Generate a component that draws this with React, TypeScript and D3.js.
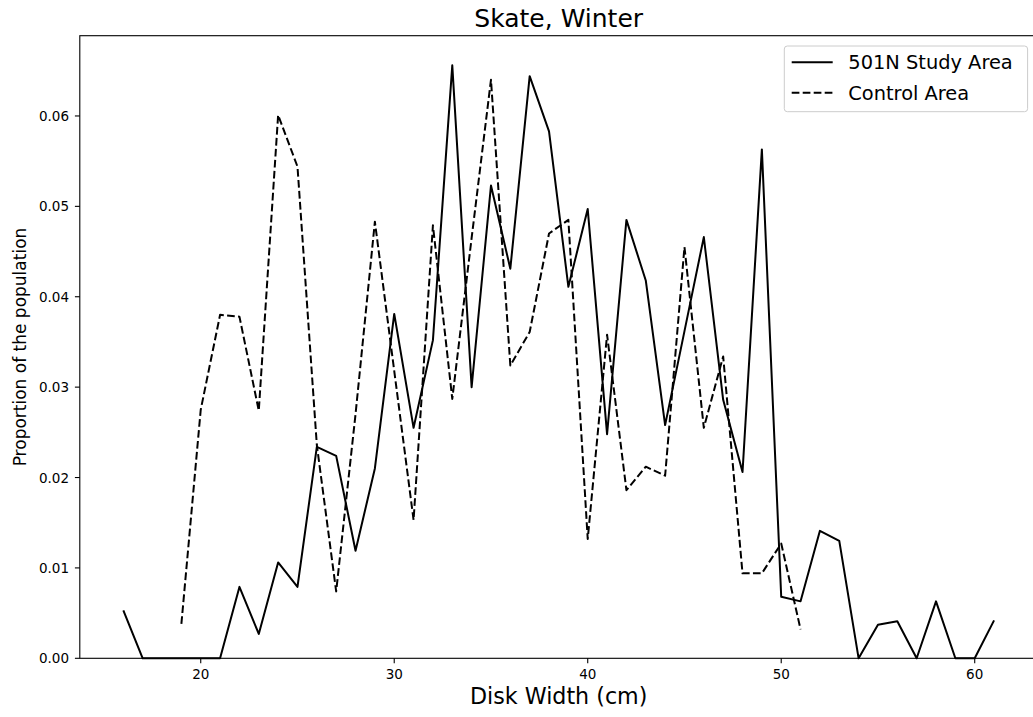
import React from "react";
import * as d3 from "d3";

const studyX = [16,17,18,19,20,21,22,23,24,25,26,27,28,29,30,31,32,33,34,35,36,37,38,39,40,41,42,43,44,45,46,47,48,49,50,51,52,53,54,55,56,57,58,59,60,61];
const studyY = [0.0053,0,0,0,0,0,0.0079,0.0027,0.0106,0.0079,0.0234,0.0224,0.0119,0.0210,0.0381,0.0255,0.0352,0.0656,0.0300,0.0523,0.0431,0.0644,0.0583,0.0411,0.0497,0.0248,0.0485,0.0418,0.0258,0.0362,0.0466,0.0286,0.0206,0.0563,0.0068,0.0063,0.0141,0.0130,0,0.0037,0.0041,0,0.0063,0,0,0.0042];
const controlX = [19,20,21,22,23,24,25,26,27,28,29,30,31,32,33,34,35,36,37,38,39,40,41,42,43,44,45,46,47,48,49,50,51];
const controlY = [0.0038,0.0275,0.0380,0.0378,0.0274,0.0601,0.0544,0.0236,0.0074,0.0270,0.0483,0.0318,0.0153,0.0479,0.0287,0.0465,0.0640,0.0324,0.0361,0.0470,0.0485,0.0132,0.0358,0.0186,0.0212,0.0202,0.0455,0.0255,0.0334,0.0094,0.0094,0.0127,0.0032];
const xTicks = [20, 30, 40, 50, 60];
const yTicks = [0, 0.01, 0.02, 0.03, 0.04, 0.05, 0.06];
const seriesNames = ["501N Study Area", "Control Area"];
const title = "Skate, Winter";
const xLabel = "Disk Width (cm)";
const yLabel = "Proportion of the population";

const W = 1033, H = 717;
const L = 79.8, R = 1037.6, T = 35.7, B = 658.3;
const FONT = "'DejaVu Sans', sans-serif";

export default function App() {
  const x = d3.scaleLinear().domain([13.75, 63.25]).range([L, R]);
  const y = d3.scaleLinear().domain([0, 0.06888]).range([B, T]);
  const line = d3.line<[number, number]>().x(d => x(d[0])).y(d => y(d[1]));
  const studyPts = studyX.map((v, i) => [v, studyY[i]] as [number, number]);
  const ctrlPts = controlX.map((v, i) => [v, controlY[i]] as [number, number]);
  const fmt = d3.format(".2f");
  const legX = 784.3, legY = 46, legW = 243.3, legH = 65.7;
  return (
    <svg width={W} height={H} style={{ position: "absolute", left: 0, top: 0, background: "#fff" }} fontFamily={FONT}>
      <rect x={0} y={0} width={W} height={H} fill="#fff" />
      <path d={line(studyPts) || ""} fill="none" stroke="#000" strokeWidth={2} strokeLinejoin="round" />
      <path d={line(ctrlPts) || ""} fill="none" stroke="#000" strokeWidth={2} strokeDasharray="7.7,3.3" strokeLinejoin="round" />
      {/* spines */}
      <rect x={L} y={T} width={R - L} height={B - T} fill="none" stroke="#000" strokeWidth={1.1} />
      {/* x ticks */}
      {xTicks.map(t => (
        <g key={"x" + t}>
          <line x1={x(t)} x2={x(t)} y1={B} y2={B + 4.9} stroke="#000" strokeWidth={1.1} />
          <text x={x(t)} y={678.5} textAnchor="middle" fontSize={13.5} fill="#000">{t}</text>
        </g>
      ))}
      {yTicks.map(t => (
        <g key={"y" + t}>
          <line x1={L - 4.9} x2={L} y1={y(t)} y2={y(t)} stroke="#000" strokeWidth={1.1} />
          <text x={69} y={y(t) + 5} textAnchor="end" fontSize={13.5} fill="#000">{fmt(t)}</text>
        </g>
      ))}
      <text x={(L + R) / 2} y={26.7} textAnchor="middle" fontSize={25} fill="#000">{title}</text>
      <text x={(L + R) / 2} y={704} textAnchor="middle" fontSize={22.2} fill="#000">{xLabel}</text>
      <text transform={`translate(25.5, ${(T + B) / 2}) rotate(-90)`} textAnchor="middle" fontSize={17} fill="#000">{yLabel}</text>
      {/* legend */}
      <rect x={legX} y={legY} width={legW} height={legH} rx={3} fill="#fff" fillOpacity={0.8} stroke="#cccccc" strokeWidth={1} />
      {seriesNames.map((n, i) => {
        const ly = 62.3 + i * 30.4;
        return (
          <g key={n}>
            <line x1={791.7} x2={832.7} y1={ly} y2={ly} stroke="#000" strokeWidth={2} strokeDasharray={i === 1 ? "7.7,3.3" : undefined} />
            <text x={848.3} y={ly + 7} fontSize={19.4} fill="#000">{n}</text>
          </g>
        );
      })}
    </svg>
  );
}
